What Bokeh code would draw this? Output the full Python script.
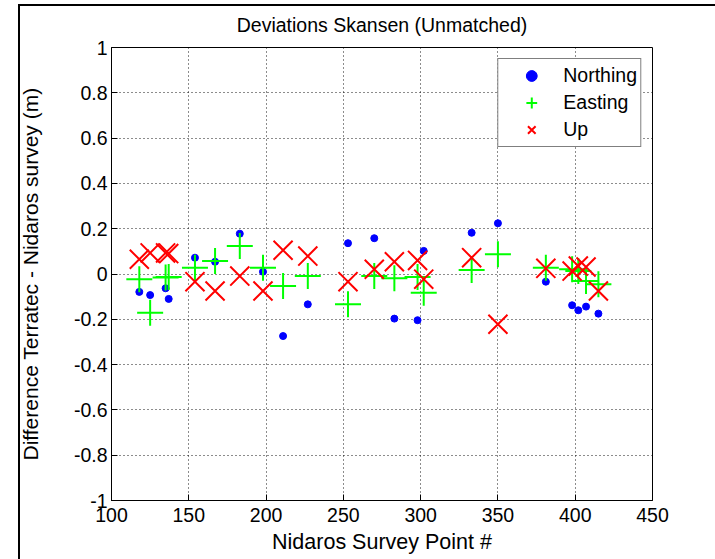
from bokeh.plotting import figure
from bokeh.models import FixedTicker, Legend, LegendItem, InlineStyleSheet
from bokeh.embed import file_html
from bokeh.resources import INLINE

# ---- data ----
point_ids = [118, 125, 135, 137, 154, 167, 183, 198, 211, 227, 253,
             270, 283, 298, 302, 333, 350, 381, 398, 402, 407, 415]
northing = [-0.079, -0.093, -0.063, -0.110, 0.072, 0.054, 0.178, 0.010, -0.274, -0.134, 0.136,
            0.158, -0.197, -0.204, 0.102, 0.182, 0.224, -0.034, -0.138, -0.160, -0.144, -0.175]
easting = [-0.023, -0.171, -0.016, -0.013, 0.028, 0.057, 0.124, 0.028, -0.053, -0.009, -0.134,
           -0.009, -0.019, -0.013, -0.083, 0.018, 0.087, 0.028, 0.021, 0.013, -0.031, -0.045]
up = [0.065, 0.093, 0.093, 0.090, -0.034, -0.075, -0.009, -0.075, 0.105, 0.079, -0.034,
      0.021, 0.054, 0.060, -0.023, 0.072, -0.222, 0.025, 0.013, 0.035, 0.031, -0.075]

series_names = ["Northing", "Easting", "Up"]
x_ticks = [100, 150, 200, 250, 300, 350, 400, 450]
y_ticks = [-1, -0.8, -0.6, -0.4, -0.2, 0, 0.2, 0.4, 0.6, 0.8, 1]
y_tick_labels = ["-1", "-0.8", "-0.6", "-0.4", "-0.2", "0", "0.2", "0.4", "0.6", "0.8", "1"]

FONT = "Liberation Sans"
FS = "19.5px"

border_css = InlineStyleSheet(css="""
:host { position: relative; }
:host::after {
  content: '';
  position: absolute;
  left: 18px; top: 4px; right: 0px; bottom: 0px;
  border-left: 2px solid #000;
  border-top: 2px solid #000;
  pointer-events: none;
}
""")

p = figure(
    frame_width=541, frame_height=453,
    min_border_left=111, min_border_right=63, min_border_top=46, min_border_bottom=60,
    x_range=(100, 450), y_range=(-1, 1),
    output_backend="svg", toolbar_location=None,
    title="Deviations Skansen (Unmatched)",
    background_fill_color="white", border_fill_color="white",
)
p.stylesheets = [border_css]

p.title.align = "center"
p.title.text_font = FONT
p.title.text_font_size = FS
p.title.text_font_style = "normal"
p.title.text_color = "#000000"
p.title.standoff = 23

p.outline_line_color = "#000000"
p.outline_line_width = 1
p.outline_line_alpha = 1

for ax in (p.xaxis[0], p.yaxis[0]):
    ax.major_tick_in = 6
    ax.major_tick_out = 0
    ax.minor_tick_line_color = None
    ax.axis_line_color = "#000000"
    ax.major_tick_line_color = "#000000"
    ax.major_label_text_font = FONT
    ax.major_label_text_font_size = FS
    ax.major_label_text_color = "#000000"
    ax.axis_label_text_font = FONT
    ax.axis_label_text_font_style = "normal"
    ax.axis_label_text_color = "#000000"

p.xaxis.axis_label_text_font_size = "21.5px"
p.yaxis.axis_label_text_font_size = "21px"

p.xaxis.ticker = FixedTicker(ticks=x_ticks)
p.yaxis.ticker = FixedTicker(ticks=y_ticks)
p.yaxis.major_label_overrides = {t: l for t, l in zip(y_ticks, y_tick_labels)}
p.xaxis.major_label_standoff = 7
p.yaxis.major_label_standoff = 4
p.xaxis.axis_label = "Nidaros Survey Point #"
p.yaxis.axis_label = "Difference Terratec - Nidaros survey (m)"
p.xaxis.axis_label_standoff = 5
p.yaxis.axis_label_standoff = 29

for g in (p.xgrid[0], p.ygrid[0]):
    g.grid_line_color = "#000000"
    g.grid_line_dash = "1 3"
    g.grid_line_width = 1
    g.grid_line_alpha = 0.9
p.xgrid.ticker = FixedTicker(ticks=x_ticks)
p.ygrid.ticker = FixedTicker(ticks=y_ticks)

r_n = p.scatter(point_ids, northing, marker="circle", size=7,
                fill_color="#0000FF", line_color="#0000FF")
r_e = p.scatter(point_ids, easting, marker="cross", size=26,
                line_color="#00FF00", line_width=2)
r_u = p.scatter(point_ids, up, marker="x", size=27,
                line_color="#FF0000", line_width=2)

legend = Legend(
    items=[LegendItem(label=series_names[0], renderers=[r_n]),
           LegendItem(label=series_names[1], renderers=[r_e]),
           LegendItem(label=series_names[2], renderers=[r_u])],
    location="top_right",
    margin=11,
    padding=3,
    spacing=0,
    glyph_width=60,
    glyph_height=27,
    label_height=27,
    label_standoff=2,
    label_text_font=FONT,
    label_text_font_size=FS,
    label_text_color="#000000",
    border_line_color="#000000",
    border_line_width=1,
    background_fill_color="white",
    background_fill_alpha=1,
)
p.add_layout(legend)

open("out.html", "w").write(file_html(p, INLINE))
